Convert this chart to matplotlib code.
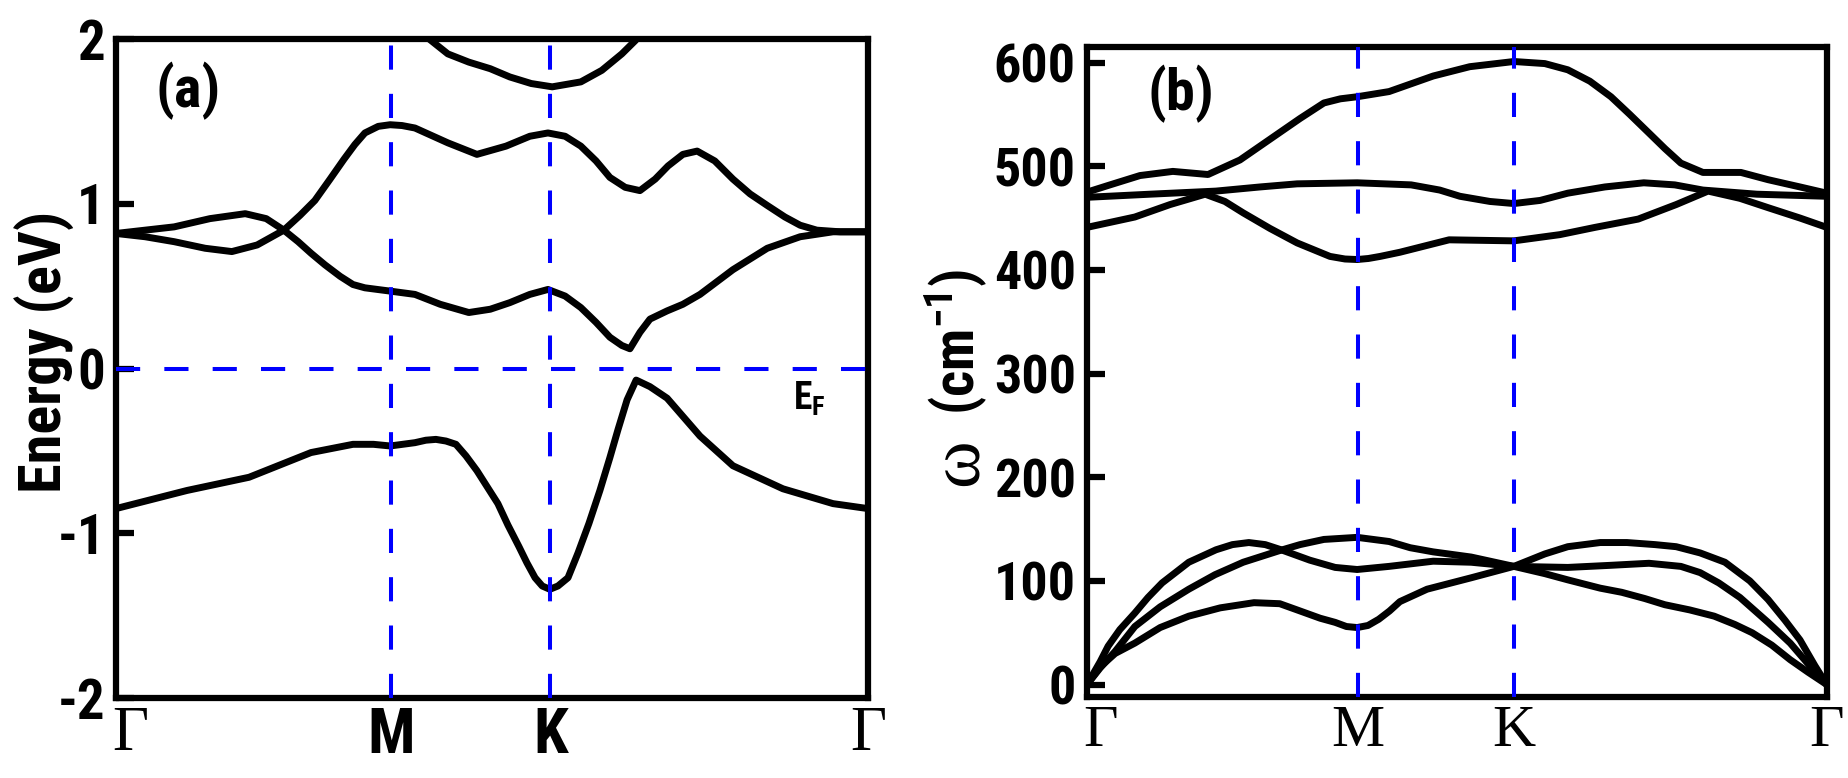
import matplotlib
matplotlib.use('Agg')
import matplotlib.pyplot as plt
import matplotlib.transforms as mtransforms
from matplotlib import font_manager

# fonts: a narrow bold sans for numbers/labels, a serif for the Greek letters
names = set(f.name for f in font_manager.fontManager.ttflist)
narrow = 'Liberation Sans'
for cand in ['Liberation Sans Narrow', 'Roboto Condensed', 'PT Sans Narrow', 'Fira Sans Condensed']:
    if cand in names:
        narrow = cand
        break
serif = 'Liberation Serif'
plt.rcParams['mathtext.fontset'] = 'custom'
plt.rcParams['mathtext.rm'] = narrow + ':bold'
plt.rcParams['mathtext.bf'] = narrow + ':bold'

# high-symmetry points along the path (Gamma-M-K-Gamma)
kpath = [0.0, 0.5774, 0.9107, 1.5774]
klabels_a = ['Γ', 'M', 'K', 'Γ']
klabels_b = ['Γ', 'M', 'K', 'Γ']

# (a) electronic bands, energies in eV
k_vb = [0.000, 0.149, 0.279, 0.409, 0.497, 0.540, 0.575, 0.627, 0.650, 0.671, 0.692, 0.713, 0.734,
        0.757, 0.801, 0.822, 0.845, 0.862, 0.879, 0.894, 0.910, 0.927, 0.948, 0.969, 0.992, 1.015,
        1.036, 1.053, 1.072, 1.091, 1.120, 1.156, 1.225, 1.294, 1.399, 1.504, 1.577]
e_vb = [-0.85, -0.74, -0.66, -0.51, -0.46, -0.46, -0.47, -0.45, -0.435, -0.43, -0.44, -0.46, -0.53,
        -0.62, -0.82, -0.95, -1.08, -1.18, -1.27, -1.32, -1.34, -1.32, -1.27, -1.12, -0.94, -0.74,
        -0.54, -0.37, -0.19, -0.07, -0.11, -0.18, -0.41, -0.59, -0.73, -0.82, -0.85]

k_cb1 = [0.000, 0.061, 0.122, 0.197, 0.271, 0.315, 0.352, 0.382, 0.409, 0.438, 0.470, 0.497, 0.522,
         0.575, 0.627, 0.680, 0.740, 0.785, 0.826, 0.868, 0.906, 0.942, 0.975, 1.007, 1.036, 1.061,
         1.078, 1.099, 1.120, 1.156, 1.189, 1.225, 1.294, 1.366, 1.435, 1.504, 1.577]
e_cb1 = [0.82, 0.84, 0.86, 0.91, 0.94, 0.91, 0.84, 0.77, 0.70, 0.63, 0.56, 0.51, 0.49,
         0.47, 0.45, 0.39, 0.34, 0.36, 0.40, 0.45, 0.48, 0.44, 0.37, 0.28, 0.19, 0.14,
         0.12, 0.22, 0.30, 0.35, 0.39, 0.45, 0.60, 0.73, 0.80, 0.83, 0.83]

k_cb2 = [0.000, 0.061, 0.122, 0.187, 0.243, 0.296, 0.352, 0.386, 0.417, 0.449, 0.478, 0.501, 0.522,
         0.550, 0.575, 0.600, 0.627, 0.696, 0.757, 0.818, 0.868, 0.906, 0.942, 0.975, 1.007, 1.036,
         1.068, 1.099, 1.131, 1.158, 1.189, 1.219, 1.256, 1.294, 1.330, 1.366, 1.403, 1.435, 1.470,
         1.519, 1.577]
e_cb2 = [0.82, 0.80, 0.77, 0.73, 0.71, 0.75, 0.84, 0.93, 1.02, 1.15, 1.27, 1.36, 1.43,
         1.47, 1.48, 1.475, 1.46, 1.37, 1.30, 1.35, 1.41, 1.43, 1.41, 1.35, 1.26, 1.16,
         1.10, 1.08, 1.15, 1.23, 1.30, 1.32, 1.26, 1.15, 1.06, 0.99, 0.92, 0.87, 0.84,
         0.83, 0.83]

k_cb3 = [0.627, 0.657, 0.696, 0.740, 0.785, 0.826, 0.871, 0.915, 0.975, 1.019, 1.061, 1.089, 1.116]
e_cb3 = [2.12, 2.00, 1.91, 1.86, 1.82, 1.77, 1.73, 1.71, 1.74, 1.81, 1.91, 1.99, 2.08]

# (b) phonon branches, frequencies in cm^-1
k_o3 = [0, 0.049, 0.113, 0.183, 0.258, 0.326, 0.390, 0.454, 0.505, 0.540, 0.576, 0.644, 0.738, 0.816,
        0.910, 0.976, 1.025, 1.072, 1.117, 1.157, 1.198, 1.232, 1.266, 1.313, 1.394, 1.452, 1.520, 1.577]
w_o3 = [475, 482, 491, 495, 492, 506, 526, 546, 561, 565, 567, 572, 587, 596,
        601, 599, 593, 582, 567, 550, 532, 517, 503, 494, 494, 487, 480, 474]

k_o2 = [0, 0.134, 0.275, 0.369, 0.448, 0.576, 0.691, 0.752, 0.795, 0.859, 0.910, 0.966, 1.025,
        1.104, 1.187, 1.253, 1.313, 1.428, 1.577]
w_o2 = [470, 473, 476, 480, 483, 484, 482, 477, 471, 466, 464, 467, 474,
        480, 484, 482, 477, 473, 471]

k_o1 = [0, 0.102, 0.177, 0.252, 0.294, 0.333, 0.390, 0.448, 0.518, 0.550, 0.576, 0.600, 0.625,
        0.667, 0.772, 0.910, 1.008, 1.083, 1.175, 1.256, 1.324, 1.392, 1.452, 1.520, 1.577]
w_o1 = [441, 451, 463, 473, 466, 455, 440, 426, 413, 410.5, 410, 411, 413,
        417, 429, 428, 434, 441, 449, 463, 476, 469, 460, 450, 441]

k_a1 = [0, 0.028, 0.060, 0.102, 0.156, 0.217, 0.284, 0.356, 0.411, 0.448, 0.497, 0.529, 0.553,
        0.576, 0.599, 0.622, 0.645, 0.667, 0.725, 0.819, 0.910, 0.976, 1.025, 1.094, 1.151, 1.211,
        1.256, 1.307, 1.360, 1.413, 1.452, 1.488, 1.520, 1.552, 1.577]
w_a1 = [0, 17, 30, 40, 55, 66, 74, 79, 78, 72, 64, 60, 56,
        55, 57, 63, 71, 80, 92, 103, 114, 126, 133, 137, 137, 135,
        133, 127, 118, 100, 82, 62, 43, 18, 0]

k_a2 = [0, 0.028, 0.060, 0.102, 0.156, 0.217, 0.273, 0.333, 0.409, 0.454, 0.505, 0.576, 0.644,
        0.689, 0.738, 0.819, 0.910, 0.976, 1.025, 1.094, 1.140, 1.189, 1.232, 1.285, 1.337, 1.381,
        1.418, 1.460, 1.499, 1.537, 1.577]
w_a2 = [0, 16, 32, 56, 75, 92, 106, 118, 129, 135, 140, 142, 138,
        132, 128, 123, 114, 107, 101, 93, 89, 83, 77, 72, 66, 58,
        50, 38, 24, 12, 0]

k_a3 = [0, 0.028, 0.045, 0.070, 0.102, 0.130, 0.160, 0.217, 0.275, 0.310, 0.345, 0.380, 0.414,
        0.475, 0.529, 0.576, 0.644, 0.738, 0.819, 0.910, 1.025, 1.115, 1.198, 1.266, 1.307, 1.347,
        1.392, 1.452, 1.499, 1.541, 1.577]
w_a3 = [0, 22, 37, 53, 69, 84, 98, 118, 130, 135, 137, 135, 130,
        120, 113, 111, 114, 119, 118, 114, 113, 115, 117, 114, 108, 98,
        84, 60, 40, 18, 0]

blue = '#0000ff'
lw_band = 5
lw_frame = 4.5

fig = plt.figure(figsize=(18.48, 7.78), dpi=100)
ax1 = fig.add_axes([0.0628, 0.1028, 0.4069, 0.8470])
ax2 = fig.add_axes([0.5882, 0.1041, 0.4004, 0.8355])

# ---- panel (a)
for k, e in [(k_vb, e_vb), (k_cb1, e_cb1), (k_cb2, e_cb2), (k_cb3, e_cb3)]:
    ax1.plot(k, e, color='k', lw=lw_band, solid_joinstyle='round', zorder=2)
for kv in kpath[1:3]:
    ax1.axvline(kv, color=blue, lw=2.9, dashes=(6, 6), zorder=3)
ax1.axhline(0, color=blue, lw=2.9, dashes=(6, 6), zorder=3)
ax1.set_xlim(kpath[0], kpath[-1])
ax1.set_ylim(-2, 2)
ax1.set_yticks([-2, -1, 0, 1, 2])
ax1.set_yticklabels(['-2', '-1', '0', '1', '2'], fontfamily=narrow, fontweight='bold', fontsize=39.5)
ax1.set_xticks(kpath)
ax1.set_xticklabels(klabels_a)
for i, t in enumerate(ax1.get_xticklabels()):
    if klabels_a[i] == 'Γ':
        t.set_fontfamily(serif)
        t.set_fontsize(45)
    else:
        t.set_fontfamily(narrow)
        t.set_fontweight('bold')
        t.set_fontsize(45)
ax1.text(0.082, 1.86, '(a)', fontfamily=narrow, fontweight='bold', fontsize=42, va='top', ha='left')
ax1.text(1.42, -0.25, r'E$_{\mathbf{F}}$', fontfamily=narrow, fontweight='bold', fontsize=27,
         va='baseline', ha='left')

# ---- panel (b)
for k, w in [(k_o3, w_o3), (k_o2, w_o2), (k_o1, w_o1), (k_a1, w_a1), (k_a2, w_a2), (k_a3, w_a3)]:
    ax2.plot(k, w, color='k', lw=lw_band, solid_joinstyle='round', zorder=2)
for kv in kpath[1:3]:
    ax2.axvline(kv, color=blue, lw=2.9, dashes=(6, 6), zorder=3)
ax2.set_xlim(kpath[0], kpath[-1])
ax2.set_ylim(-12, 615)
ax2.set_yticks([0, 100, 200, 300, 400, 500, 600])
ax2.set_yticklabels(['0', '100', '200', '300', '400', '500', '600'],
                    fontfamily=narrow, fontweight='bold', fontsize=39)
ax2.set_xticks(kpath)
ax2.set_xticklabels(klabels_b, fontfamily=serif, fontsize=43)
ax2.text(0.128, 598, '(b)', fontfamily=narrow, fontweight='bold', fontsize=42, va='top', ha='left')

for ax in (ax1, ax2):
    for s in ax.spines.values():
        s.set_linewidth(lw_frame)
    ax.tick_params(axis='y', direction='in', length=13, width=lw_frame, right=False, pad=8)
    ax.tick_params(axis='x', length=0, pad=6)
    # the first Gamma sits a little right of the corner in the original
    first = ax.get_xticklabels()[0]
    first.set_transform(first.get_transform() +
                        mtransforms.ScaledTranslation(0.14, 0, fig.dpi_scale_trans))

# axis titles
fig.text(45 / 1848, 1 - 352 / 778, 'Energy (eV)', rotation=90, ha='center', va='center',
         fontfamily=narrow, fontweight='bold', fontsize=43.5)
fig.text(960 / 1848, 1 - 462 / 778, 'ω', rotation=90, ha='center', va='center',
         fontfamily=serif, fontsize=52)
fig.text(956 / 1848, 1 - 342 / 778, r'(cm$^{\mathbf{-1}}$)', rotation=90, ha='center', va='center',
         fontfamily=narrow, fontweight='bold', fontsize=41)

fig.savefig('out.png', dpi=100)
